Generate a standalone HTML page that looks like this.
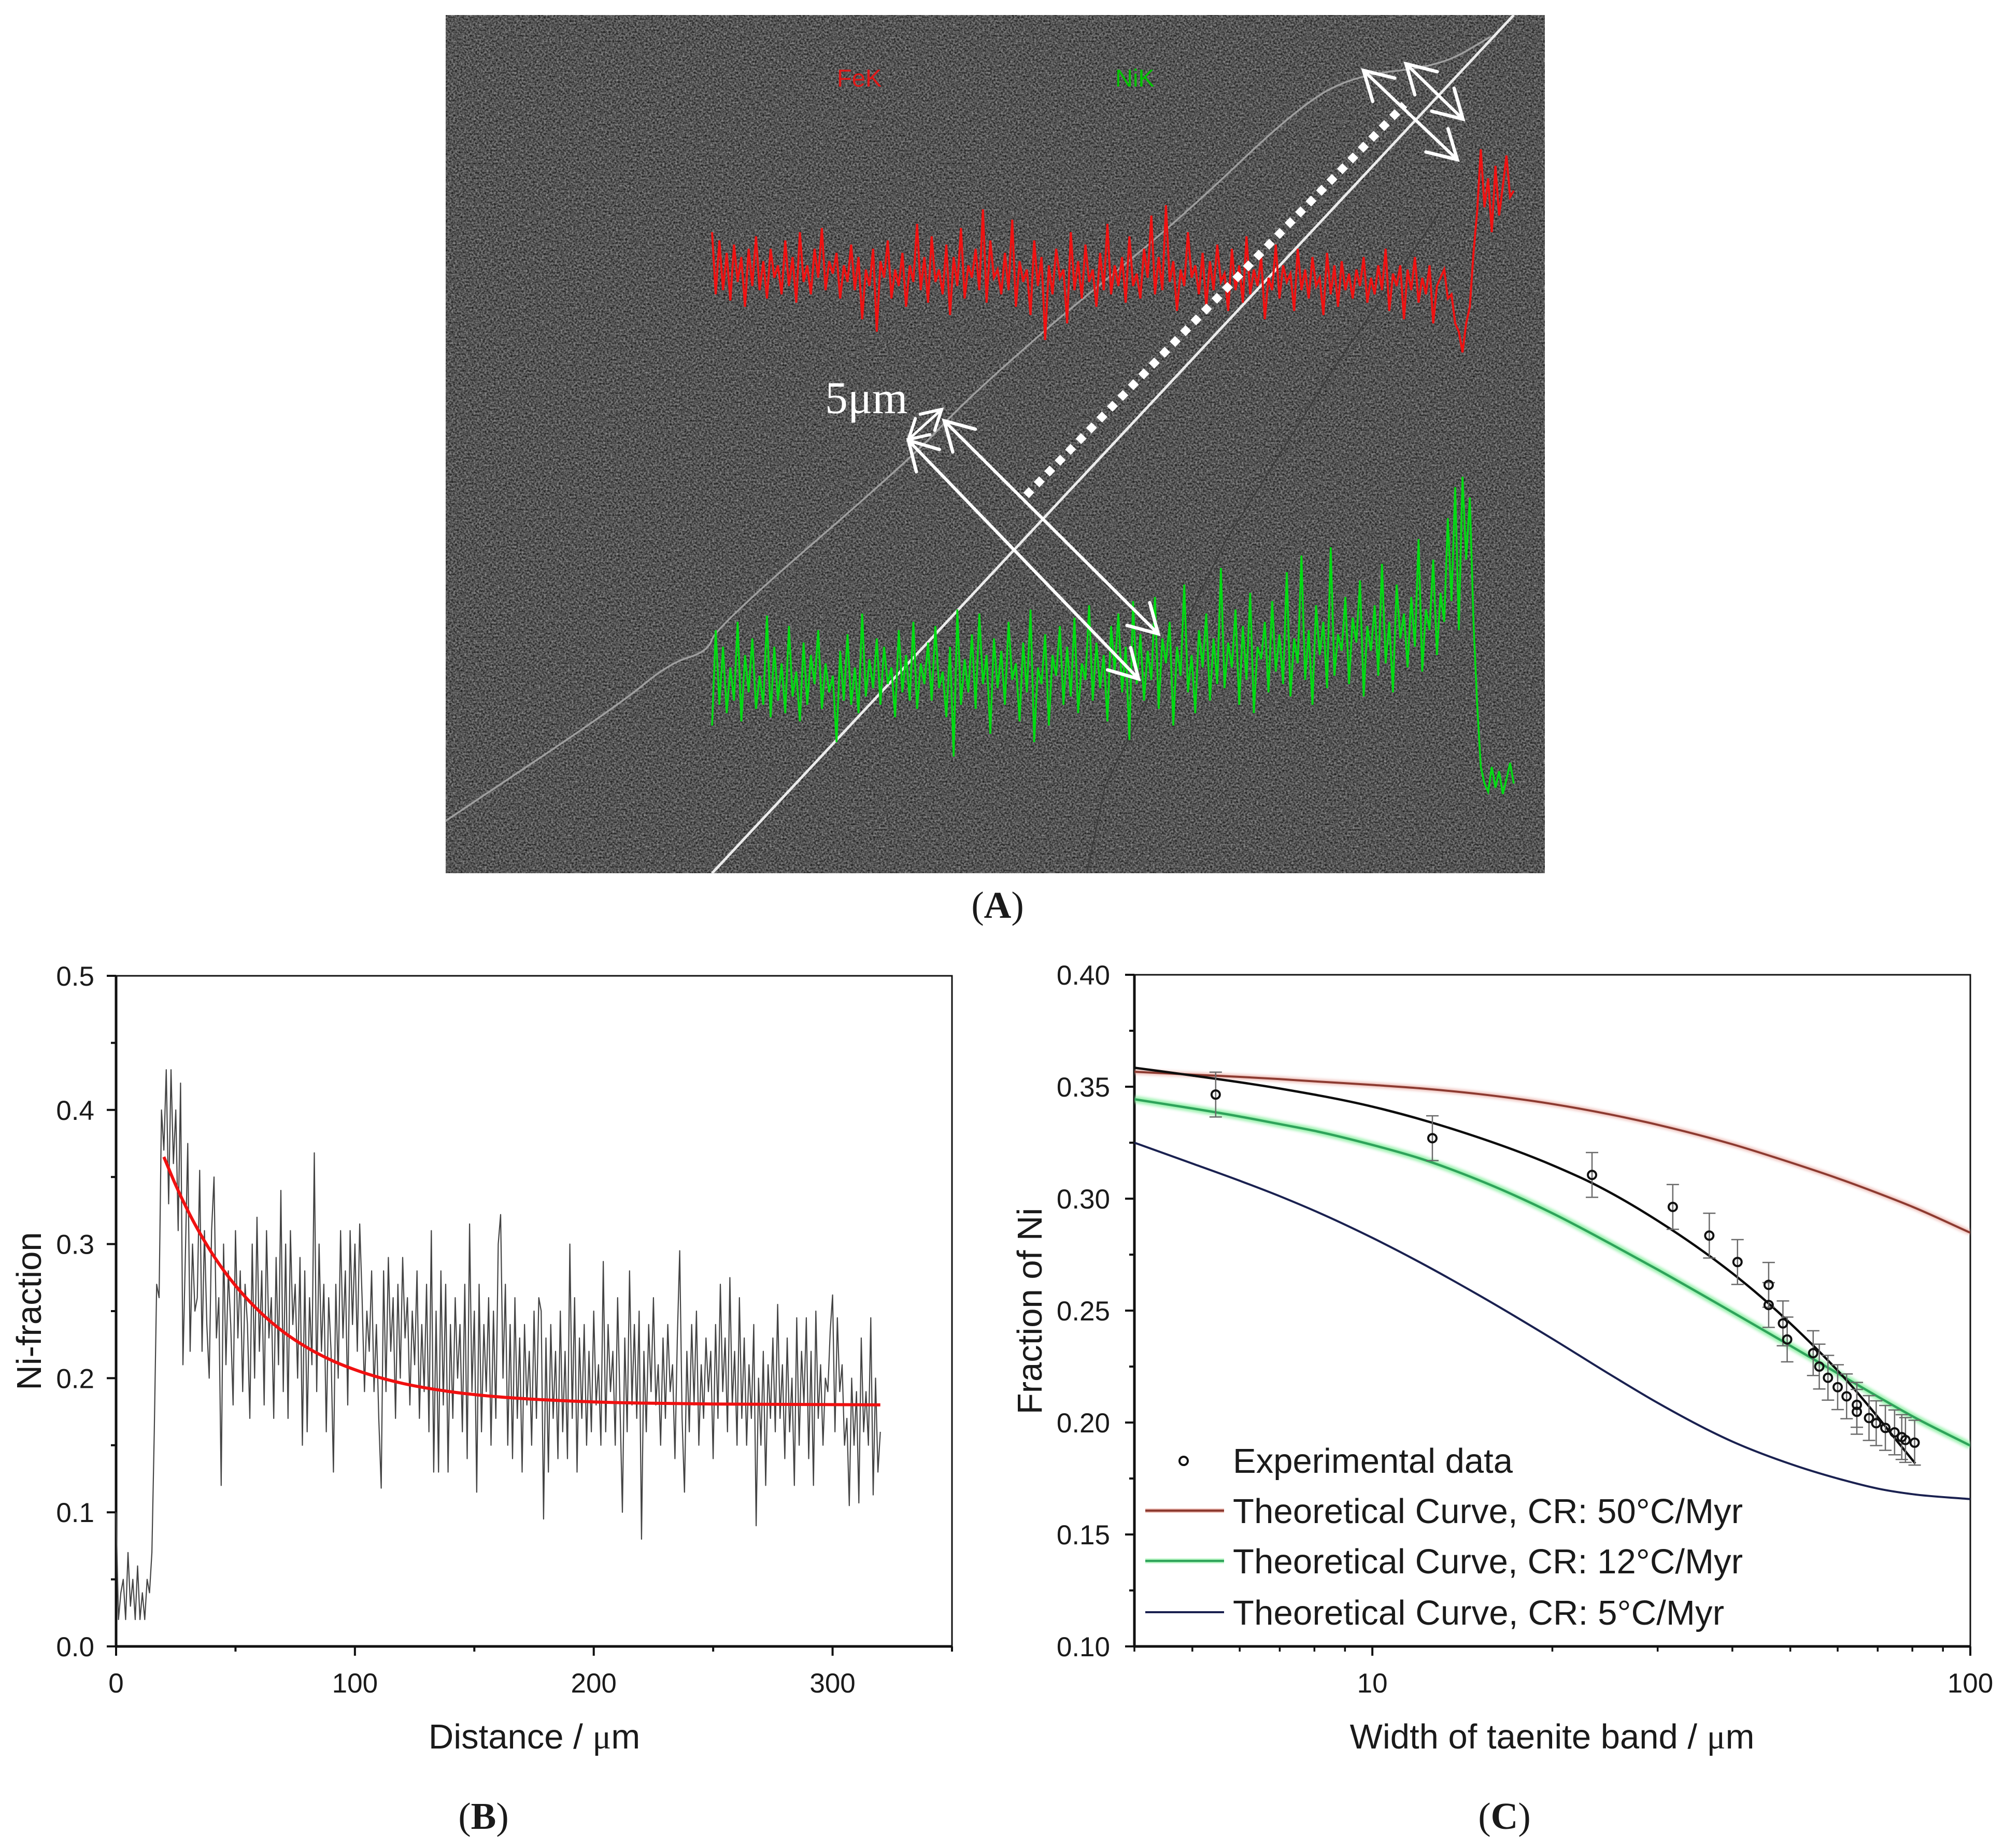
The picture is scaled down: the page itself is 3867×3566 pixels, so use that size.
<!DOCTYPE html>
<html lang="en">
<head>
<meta charset="utf-8">
<title>Ni profile across taenite band</title>
<style>
html,body{margin:0;padding:0;background:#fff}
svg{display:block}
text{font-family:"Liberation Sans",sans-serif;fill:#1a1a1a}
.serif{font-family:"Liberation Serif",serif}
.tick{font-size:53px}
.title{font-size:67px}
.legend{font-size:67px}
.panel{font-family:"Liberation Serif",serif;font-size:73px;text-anchor:middle}
</style>
</head>
<body>
<svg id="fig" xmlns="http://www.w3.org/2000/svg" width="3867" height="3566" viewBox="0 0 3867 3566">
<defs>
<filter id="grain" x="0" y="0" width="100%" height="100%" color-interpolation-filters="sRGB">
<feTurbulence type="fractalNoise" baseFrequency="0.28" numOctaves="2" seed="7"/>
<feColorMatrix type="matrix" values="0.72 0 0 0 -0.03  0.72 0 0 0 -0.03  0.72 0 0 0 -0.03  0 0 0 0 1"/>
</filter>
<filter id="soft" x="-5%" y="-20%" width="110%" height="140%">
<feGaussianBlur stdDeviation="3"/>
</filter>
<marker id="vh" viewBox="-72 -40 80 80" refX="0" refY="0" markerWidth="80" markerHeight="80" markerUnits="userSpaceOnUse" orient="auto-start-reverse">
<path d="M-54,-31 L0,0 L-54,31" fill="none" stroke="#fff" stroke-width="6.5" stroke-linecap="round" stroke-linejoin="miter"/>
</marker>
<marker id="vs" viewBox="-50 -30 60 60" refX="0" refY="0" markerWidth="60" markerHeight="60" markerUnits="userSpaceOnUse" orient="auto-start-reverse">
<path d="M-37,-21 L0,0 L-37,21" fill="none" stroke="#fff" stroke-width="6" stroke-linecap="round" stroke-linejoin="miter"/>
</marker>
<clipPath id="clipC"><rect x="2189" y="1881" width="1613" height="1296"/></clipPath>
</defs>

<rect width="3867" height="3566" fill="#fff"/>

<!-- Panel A -->
<g id="panelA">
<rect x="860" y="29" width="2121" height="1656" fill="#555"/>
<rect x="860" y="29" width="2121" height="1656" filter="url(#grain)"/>
<path d="M860,1584 L1027.5,1472 Q1195,1360 1243,1320 Q1291,1280 1329,1268.5 Q1367,1257 1373.5,1234.5 Q1380,1212 1570,1047.5 Q1760,883 1808,831.5 Q1856,780 1938.5,706.5 Q2021,633 2055.5,604.5 Q2090,576 2186.5,496.5 Q2283,417 2393.5,312 Q2504,207 2559,176 Q2614,145 2696.5,136.5 Q2779,128 2827.5,99.5 L2876,71" fill="none" stroke="#a0a0a0" stroke-width="3.5"/>
<polyline points="2097,1685 2132,1518 2366,1042 2573,712 2780,406" fill="none" stroke="#3c3c3c" stroke-width="2.5"/>
<line x1="1374" y1="1685" x2="2921" y2="29" stroke="#ececec" stroke-width="5"/>
<text x="1615" y="167" font-size="47" style="fill:#e01818">FeK</text>
<text x="2152" y="167" font-size="47" style="fill:#00c400">NiK</text>
<g id="tracesA"></g>
<line x1="1980" y1="956" x2="2710" y2="202" stroke="#fff" stroke-width="15" stroke-dasharray="15 14"/>
<line x1="1753" y1="850" x2="2197" y2="1310" stroke="#fff" stroke-width="6" marker-start="url(#vh)" marker-end="url(#vh)"/>
<line x1="1822" y1="812" x2="2235" y2="1223" stroke="#fff" stroke-width="6" marker-start="url(#vh)" marker-end="url(#vh)"/>
<line x1="2631" y1="136" x2="2812" y2="308" stroke="#fff" stroke-width="6" marker-start="url(#vh)" marker-end="url(#vh)"/>
<line x1="2713" y1="123" x2="2823" y2="230" stroke="#fff" stroke-width="6" marker-start="url(#vh)" marker-end="url(#vh)"/>
<line x1="1753" y1="848" x2="1817" y2="790" stroke="#fff" stroke-width="5" marker-start="url(#vs)" marker-end="url(#vs)"/>
<text class="serif" x="1592" y="797" font-size="88" style="fill:#fff">5μm</text>
</g>
<text class="panel" x="1925" y="1771">(<tspan font-weight="bold">A</tspan>)</text>

<!-- Panel B -->
<g id="chartB"></g>
<text class="title" x="1031" y="3374" text-anchor="middle">Distance / <tspan class="serif">μ</tspan>m</text>
<text class="title" transform="translate(79,2530) rotate(-90)" text-anchor="middle">Ni-fraction</text>
<text class="panel" x="933" y="3529">(<tspan font-weight="bold">B</tspan>)</text>

<!-- Panel C -->
<g id="chartC"></g>
<text class="title" x="2995" y="3374" text-anchor="middle">Width of taenite band / <tspan class="serif">μ</tspan>m</text>
<text class="title" transform="translate(2010,2530) rotate(-90)" text-anchor="middle">Fraction of Ni</text>
<text class="panel" x="2903" y="3529">(<tspan font-weight="bold">C</tspan>)</text>

<g>
<circle cx="2284" cy="2819" r="8" fill="none" stroke="#111" stroke-width="4"/>
<text class="legend" x="2379" y="2842">Experimental data</text>
<line x1="2210" y1="2915" x2="2362" y2="2915" stroke="#e9b4ac" stroke-width="8"/>
<line x1="2210" y1="2915" x2="2362" y2="2915" stroke="#8c3a30" stroke-width="4"/>
<text class="legend" x="2379" y="2939" textLength="984">Theoretical Curve, CR: 50°C/Myr</text>
<line x1="2210" y1="3012" x2="2362" y2="3012" stroke="#aef2bc" stroke-width="9"/>
<line x1="2210" y1="3012" x2="2362" y2="3012" stroke="#2ea35a" stroke-width="4"/>
<text class="legend" x="2379" y="3036" textLength="984">Theoretical Curve, CR: 12°C/Myr</text>
<line x1="2210" y1="3111" x2="2362" y2="3111" stroke="#1a2150" stroke-width="4"/>
<text class="legend" x="2379" y="3135" textLength="948">Theoretical Curve, CR: 5°C/Myr</text>
</g>
</svg>

<script>
// ---- Panel A line-scan counts ----
var feCounts = [
88,58,84,60,78,55,82,64,76,52,80,62,86,60,74,56,80,66,72,58,
84,62,76,54,88,64,72,58,80,66,90,60,74,68,78,56,72,64,82,60,
76,46,70,62,80,40,74,66,84,56,70,62,78,52,72,64,92,60,76,54,
86,64,70,58,82,48,76,62,90,56,72,66,80,60,99,54,84,66,70,58,
78,60,94,52,74,64,70,48,84,62,76,36,72,58,80,66,70,44,88,60,
74,56,82,64,70,52,78,60,92,58,72,62,76,54,86,62,68,56,80,66,
96,58,76,60,101,64,74,50,70,62,88,66,72,58,78,52,74,60,82,64,
68,50,80,60,72,54,86,58,70,62,76,46,66,60,82,56,72,64,68,50,
80,60,70,56,76,62,66,48,78,58,72,52,74,60,68,56,70,62,76,54,
66,58,72,60,80,50,68,62,72,46,70,60,76,54,66,58,72,44,62,66,
70,56,58,44,40,30,44,52,78,98,128,100,114,88,120,96,110,125,105,108];
var niCounts = [
50,96,60,88,56,78,62,100,52,84,66,92,58,74,60,103,54,88,62,80,
56,98,64,76,52,90,60,84,70,96,58,80,66,74,42,86,62,94,60,78,
56,104,64,82,68,92,60,88,70,78,54,96,66,84,62,100,58,80,70,90,
62,98,68,76,54,88,35,106,60,82,66,94,58,104,70,84,46,92,68,86,
60,100,72,80,52,90,66,106,42,78,70,94,50,84,74,98,60,88,64,102,
56,80,72,108,62,90,68,84,52,98,76,104,66,88,43,110,70,94,62,86,
72,112,58,92,80,100,50,88,74,118,66,84,56,96,78,104,62,92,70,126,
68,90,78,106,60,98,72,114,56,88,82,100,66,110,76,94,70,124,64,92,
80,132,72,96,60,108,84,100,68,136,74,94,86,112,70,102,90,120,64,98,
86,108,74,128,80,100,66,118,92,104,78,112,88,140,76,106,96,130,84,114,
100,150,110,165,96,170,130,160,100,60,30,22,18,30,20,28,17,24,32,22];

// ---- Panel B data ----
var bXTicks = [0,100,200,300];
var bXMinor = [50,150,250,350];
var bYTicks = [0,0.1,0.2,0.3,0.4,0.5];
var bYMinor = [0.05,0.15,0.25,0.35,0.45];
var bXLabels = ["0","100","200","300"];
var bYLabels = ["0.0","0.1","0.2","0.3","0.4","0.5"];
var niProfile = [
.10,.02,.04,.05,.02,.07,.03,.05,.02,.06,.02,.04,.02,.05,
.04,.07,.16,.27,.26,.40,.37,.43,.33,.43,.36,.40,.31,.42,
.21,.29,.375,.22,.30,.25,.26,.355,.22,.31,
.24,.20,.31,.35,.23,.26,.12,.30,.21,.28,
.24,.18,.31,.23,.28,.19,.27,.24,.17,.30,
.20,.32,.22,.28,.18,.31,.23,.26,.17,.29,
.21,.34,.19,.30,.17,.31,.24,.27,.20,.29,
.15,.28,.16,.26,.21,.368,.19,.30,.22,.27,
.16,.26,.22,.13,.27,.20,.31,.23,.28,.18,
.31,.24,.30,.22,.315,.26,.19,.25,.22,.28,
.19,.24,.17,.118,.28,.19,.29,.22,.26,.17,
.27,.20,.29,.23,.26,.18,.25,.21,.28,.17,
.24,.19,.27,.16,.31,.13,.25,.13,.28,.18,
.27,.13,.24,.17,.26,.20,.24,.16,.27,.14,
.315,.19,.25,.115,.27,.16,.24,.19,.26,.15,
.25,.17,.30,.322,.20,.27,.15,.24,.14,.26,
.17,.23,.13,.24,.18,.22,.15,.25,.17,.26,
.25,.095,.23,.13,.24,.17,.22,.14,.25,.16,
.22,.14,.30,.17,.26,.13,.23,.17,.24,.15,
.22,.16,.25,.18,.21,.15,.287,.16,.24,.19,
.22,.15,.26,.18,.10,.23,.16,.28,.18,.24,
.17,.25,.08,.22,.16,.24,.19,.26,.18,.21,
.15,.23,.17,.24,.19,.21,.14,.23,.295,.17,
.115,.22,.16,.24,.18,.25,.15,.21,.17,.23,
.19,.22,.14,.24,.17,.27,.19,.23,.16,.275,
.18,.22,.15,.26,.17,.23,.15,.21,.17,.24,
.09,.20,.15,.22,.12,.21,.17,.23,.16,.255,
.17,.21,.14,.23,.16,.20,.12,.245,.15,.22,
.18,.245,.14,.22,.12,.25,.17,.21,.15,.20,
.19,.235,.262,.16,.245,.19,.21,.15,.17,.105,
.20,.15,.19,.107,.23,.16,.19,.15,.245,.113,
.20,.13,.16];
var fitX = [20,25,30,35,40,45,50,60,70,80,90,100,110,120,140,160,180,200,220,250,320];
var fitY = [.365,.3438,.3250,.3084,.2936,.2805,.2690,.2498,.2346,.2228,.2135,.2063,.2006,.1961,.1899,.1861,.1838,.1823,.1814,.1807,.1801];

// ---- Panel C data ----
var cXTicks = [10,100];
var cXLabels = ["10","100"];
var cXMinor = [4,5,6,7,8,9,20,30,40,50,60,70,80,90];
var cYTicks = [0.10,0.15,0.20,0.25,0.30,0.35,0.40];
var cYLabels = ["0.10","0.15","0.20","0.25","0.30","0.35","0.40"];
var cYMinor = [0.125,0.175,0.225,0.275,0.325,0.375];
var expWidth = [5.47,12.6,23.3,31.8,36.6,40.8,46.0,46.0,48.6,49.4,54.6,55.9,57.8,60.0,62.1,64.6,64.6,67.7,69.6,72.1,74.7,76.8,77.9,80.7];
var expNi = [.3465,.327,.3106,.2963,.2835,.2717,.2615,.2525,.2443,.2371,.231,.225,.22,.2158,.2117,.2079,.2048,.202,.1997,.1976,.1956,.1935,.1922,.191];
var expErr = [.01,.01,.01,.01,.01,.01,.01,.01,.01,.01,.01,.01,.01,.01,.01,.01,.01,.01,.01,.01,.01,.01,.01,.01];
var curveWidth = [4,5,6,7,8,10,12,15,20,25,30,40,50,60,70,80,100];
var curve50 = [.3567,.3554,.3544,.3534,.3524,.3508,.3493,.3468,.3423,.3376,.3330,.3243,.3162,.3091,.3025,.2964,.2848];
var curve12 = [.3444,.3403,.3367,.3333,.3303,.3240,.3180,.3085,.2935,.2799,.2683,.2493,.2343,.2220,.2116,.2028,.1897];
var curve5 = [.3250,.3157,.3080,.3011,.2946,.2825,.2716,.2572,.2374,.2214,.2088,.1915,.1815,.1750,.1705,.1680,.1658];
var fitCWidth = [4,5,7,10,14,20.15,23,31.5,36.8,41.1,45.9,49.4,55.7,61.6,68.3,75.8,80.9];
var fitCNi = [.3585,.3550,.3492,.3411,.3301,.3146,.3077,.2865,.2740,.2642,.2534,.2456,.2321,.2199,.2060,.1910,.1817];

// ---- scales ----
function xA(i, n){ return 1374 + i * (2921 - 1374) / (n - 1); }
function yFe(v){ return 800 - 4 * v; }
function yNi(v){ return 1600 - 4 * v; }
function xB(v){ return 224 + v / 350 * 1613; }
function yB(v){ return 3177 - v / 0.5 * 1294; }
function xC(v){ return 2189 + Math.log10(v / 4) / Math.log10(25) * 1613; }
function yC(v){ return 3177 - (v - 0.1) / 0.3 * 1296; }

var NS = "http://www.w3.org/2000/svg";
function node(tag, attrs, parent){
  var el = document.createElementNS(NS, tag);
  for (var k in attrs) el.setAttribute(k, attrs[k]);
  parent.appendChild(el);
  return el;
}
function polyPoints(xs, ys){
  var s = [];
  for (var i = 0; i < xs.length; i++) s.push(xs[i].toFixed(1) + "," + ys[i].toFixed(1));
  return s.join(" ");
}
// Hermite spline with non-uniform tangents
function smooth(px, py){
  var n = px.length, m = [], i;
  for (i = 0; i < n; i++){
    if (i === 0) m.push((py[1] - py[0]) / (px[1] - px[0]));
    else if (i === n - 1) m.push((py[n - 1] - py[n - 2]) / (px[n - 1] - px[n - 2]));
    else {
      var h0 = px[i] - px[i - 1], h1 = px[i + 1] - px[i];
      m.push(((py[i + 1] - py[i]) / h1 * h0 + (py[i] - py[i - 1]) / h0 * h1) / (h0 + h1));
    }
  }
  var d = "M" + px[0].toFixed(1) + "," + py[0].toFixed(1);
  for (i = 0; i < n - 1; i++){
    var h = (px[i + 1] - px[i]) / 3;
    d += "C" + (px[i] + h).toFixed(1) + "," + (py[i] + m[i] * h).toFixed(1) + " " + (px[i + 1] - h).toFixed(1) + "," + (py[i + 1] - m[i + 1] * h).toFixed(1) + " " + px[i + 1].toFixed(1) + "," + py[i + 1].toFixed(1);
  }
  return d;
}

// ---- Panel A traces ----
var tracesA = document.getElementById("tracesA");
var fePath = node("polyline", {points: polyPoints(feCounts.map(function(v, i){ return xA(i, feCounts.length); }), feCounts.map(yFe)), fill: "none", stroke: "#f01212", "stroke-width": 4}, tracesA);


var niPath = node("polyline", {points: polyPoints(niCounts.map(function(v, i){ return xA(i, niCounts.length); }), niCounts.map(yNi)), fill: "none", stroke: "#00dc12", "stroke-width": 3.6}, tracesA);



// ---- Panel B ----
var gB = document.getElementById("chartB");
var i, t, lab;
var frameB = node("rect", {x: 224, y: 1883, width: 1613, height: 1294, fill: "none", stroke: "#111", "stroke-width": 3}, gB);


var axisBL = node("line", {x1: 224, y1: 1883, x2: 224, y2: 3179, stroke: "#111", "stroke-width": 5}, gB);


var axisBB = node("line", {x1: 222, y1: 3177, x2: 1838, y2: 3177, stroke: "#111", "stroke-width": 5}, gB);


for (i = 0; i < bXTicks.length; i++){
  t = node("line", {x1: xB(bXTicks[i]), x2: xB(bXTicks[i]), y1: 3177, y2: 3195, stroke: "#111", "stroke-width": 4}, gB);
  
  
  lab = node("text", {x: xB(bXTicks[i]), y: 3266, "text-anchor": "middle", "class": "tick"}, gB);
  lab.textContent = bXLabels[i];
  
  
}
for (i = 0; i < bXMinor.length; i++){
  t = node("line", {x1: xB(bXMinor[i]), x2: xB(bXMinor[i]), y1: 3177, y2: 3187, stroke: "#111", "stroke-width": 4}, gB);
  
  
}
for (i = 0; i < bYTicks.length; i++){
  t = node("line", {y1: yB(bYTicks[i]), y2: yB(bYTicks[i]), x1: 224, x2: 206, stroke: "#111", "stroke-width": 4}, gB);
  
  
  lab = node("text", {x: 182, y: yB(bYTicks[i]) + 19, "text-anchor": "end", "class": "tick"}, gB);
  lab.textContent = bYLabels[i];
  
  
}
for (i = 0; i < bYMinor.length; i++){
  t = node("line", {y1: yB(bYMinor[i]), y2: yB(bYMinor[i]), x1: 224, x2: 214, stroke: "#111", "stroke-width": 4}, gB);
  
  
}
var profileLine = node("polyline", {points: polyPoints(niProfile.map(function(v, k){ return xB(k); }), niProfile.map(yB)), fill: "none", stroke: "#444", "stroke-width": 2.2, "stroke-linejoin": "round"}, gB);


var fitLine = node("path", {d: smooth(fitX.map(xB), fitY.map(yB)), fill: "none", stroke: "#f01010", "stroke-width": 6}, gB);



// ---- Panel C ----
var gC = document.getElementById("chartC");
var frameC = node("rect", {x: 2189, y: 1881, width: 1613, height: 1296, fill: "none", stroke: "#111", "stroke-width": 3}, gC);


var axisCL = node("line", {x1: 2189, y1: 1881, x2: 2189, y2: 3179, stroke: "#111", "stroke-width": 5}, gC);


var axisCB = node("line", {x1: 2187, y1: 3177, x2: 3803, y2: 3177, stroke: "#111", "stroke-width": 5}, gC);


for (i = 0; i < cXTicks.length; i++){
  t = node("line", {x1: xC(cXTicks[i]), x2: xC(cXTicks[i]), y1: 3177, y2: 3195, stroke: "#111", "stroke-width": 4}, gC);
  
  
  lab = node("text", {x: xC(cXTicks[i]), y: 3266, "text-anchor": "middle", "class": "tick"}, gC);
  lab.textContent = cXLabels[i];
  
  
}
for (i = 0; i < cXMinor.length; i++){
  t = node("line", {x1: xC(cXMinor[i]), x2: xC(cXMinor[i]), y1: 3177, y2: 3187, stroke: "#111", "stroke-width": 3.5}, gC);
  
  
}
for (i = 0; i < cYTicks.length; i++){
  t = node("line", {y1: yC(cYTicks[i]), y2: yC(cYTicks[i]), x1: 2189, x2: 2171, stroke: "#111", "stroke-width": 4}, gC);
  
  
  lab = node("text", {x: 2142, y: yC(cYTicks[i]) + 19, "text-anchor": "end", "class": "tick"}, gC);
  lab.textContent = cYLabels[i];
  
  
}
for (i = 0; i < cYMinor.length; i++){
  t = node("line", {y1: yC(cYMinor[i]), y2: yC(cYMinor[i]), x1: 2189, x2: 2179, stroke: "#111", "stroke-width": 4}, gC);
  
  
}
var gCurves = node("g", {"clip-path": "url(#clipC)"}, gC);


var d50 = smooth(curveWidth.map(xC), curve50.map(yC));
var d12 = smooth(curveWidth.map(xC), curve12.map(yC));
var d5 = smooth(curveWidth.map(xC), curve5.map(yC));
var halo50 = node("path", {d: d50, fill: "none", stroke: "#e8a8a0", "stroke-width": 9, opacity: 0.8, filter: "url(#soft)"}, gCurves);


var line50 = node("path", {d: d50, fill: "none", stroke: "#8c3a30", "stroke-width": 4}, gCurves);


var halo12 = node("path", {d: d12, fill: "none", stroke: "#8ef0a4", "stroke-width": 13, opacity: 0.9, filter: "url(#soft)"}, gCurves);


var line12 = node("path", {d: d12, fill: "none", stroke: "#2ea35a", "stroke-width": 4.5}, gCurves);


var line5 = node("path", {d: d5, fill: "none", stroke: "#1a2150", "stroke-width": 4}, gCurves);


var lineFit = node("path", {d: smooth(fitCWidth.map(xC), fitCNi.map(yC)), fill: "none", stroke: "#0c0c0c", "stroke-width": 4.5}, gCurves);


for (i = 0; i < expWidth.length; i++){
  var ex = xC(expWidth[i]), hi = yC(expNi[i] + expErr[i]), lo = yC(expNi[i] - expErr[i]);
  var eb = node("path", {d: "M" + ex + "," + hi + "V" + lo + "M" + (ex - 12) + "," + hi + "h24M" + (ex - 12) + "," + lo + "h24", fill: "none", stroke: "#6a6a6a", "stroke-width": 2.5}, gCurves);
  
  
}
for (i = 0; i < expWidth.length; i++){
  var pt = node("circle", {cx: xC(expWidth[i]), cy: yC(expNi[i]), r: 8, fill: "none", stroke: "#111", "stroke-width": 4}, gCurves);
  
  
}
</script>
</body>
</html>
